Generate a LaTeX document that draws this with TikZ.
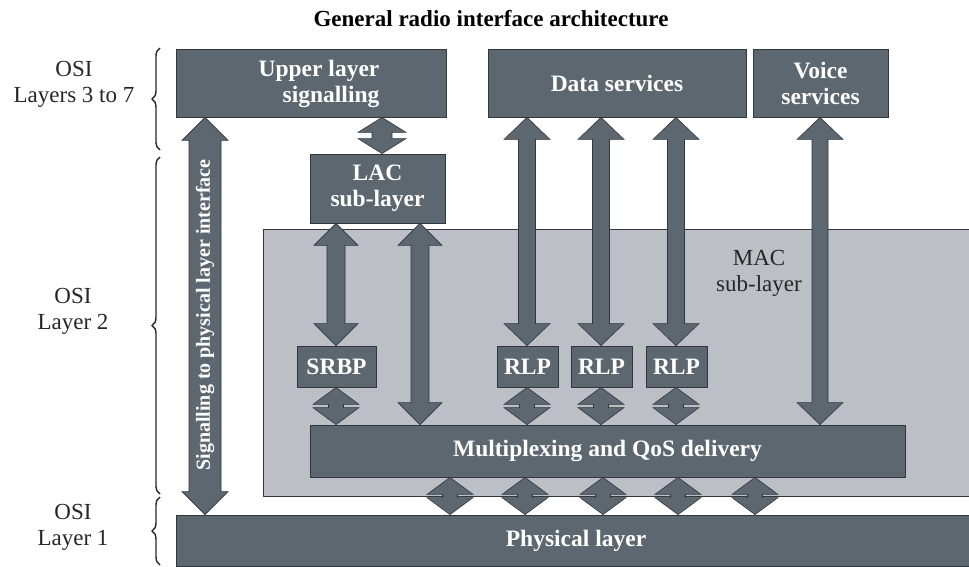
\documentclass[tikz,border=0pt]{standalone}
\usepackage{fontspec}
\setmainfont{Liberation Serif}
\usetikzlibrary{calc,decorations.pathreplacing}
\definecolor{darkbox}{RGB}{93,103,112}
\definecolor{lightbg}{RGB}{188,191,198}
\definecolor{edgecol}{RGB}{50,55,60}
\tikzset{
  x=1pt,y=1pt,
  dbox/.style={draw=edgecol,line width=0.8pt,fill=darkbox,text=white,
    font=\fontsize{23.5}{26}\selectfont\bfseries,align=center,inner sep=0pt},
  macbg/.style={draw=edgecol,line width=0.6pt,fill=lightbg},
  fatarrow/.style={draw=edgecol,line width=0.6pt,fill=darkbox},
  osilabel/.style={font=\fontsize{23}{26}\selectfont,align=center,text=black!85},
  bracestyle/.style={decorate,decoration={brace,amplitude=8pt,mirror},line width=1.4pt,draw=black!85},
}
% #1 x, #2 top anchor, #3 bottom anchor, #4 shaft half width, #5 head half width, #6 head length
\newcommand\fatdbl[6]{%
  \draw[fatarrow] let \p1=#2, \p2=#3 in
   (#1,\y1) -- ({#1+#5},{\y1-#6pt}) -- ({#1+#4},{\y1-#6pt}) -- ({#1+#4},{\y2+#6pt})
   -- ({#1+#5},{\y2+#6pt}) -- (#1,\y2) -- ({#1-#5},{\y2+#6pt}) -- ({#1-#4},{\y2+#6pt})
   -- ({#1-#4},{\y1-#6pt}) -- ({#1-#5},{\y1-#6pt}) -- cycle;}
\begin{document}
\begin{tikzpicture}
\useasboundingbox (0,0) rectangle (969,-567);
% title
\node[font=\fontsize{23}{26}\selectfont\bfseries] (title) at (491,-19) {General radio interface architecture};
% MAC background
\node[macbg,minimum width=720,minimum height=267,inner sep=0pt] (mac) at (623,-362.5) {};
\node[font=\fontsize{23}{26}\selectfont,align=center,text=black!85] (mactext) at (759,-273) {MAC\\sub-layer};
% boxes
\node[dbox,minimum width=270,minimum height=68] (upper) at (311,-83) {};
\node[font=\fontsize{23.5}{26}\selectfont\bfseries,text=white,align=right,inner sep=0pt] (uppertext) at (319,-84) {Upper layer\\signalling};
\node[dbox,minimum width=258,minimum height=68] (data) at (617,-83) {Data services};
\node[dbox,minimum width=135,minimum height=68] (voice) at (820.5,-83) {Voice\\services};
\node[dbox,minimum width=135,minimum height=69] (lac) at (377.5,-188.5) {LAC\\sub-layer};
\node[dbox,minimum width=79,minimum height=41] (srbp) at (336.5,-366.5) {SRBP};
\node[dbox,minimum width=61,minimum height=41] (rlpa) at (527.5,-366.5) {RLP};
\node[dbox,minimum width=61,minimum height=41] (rlpb) at (601.5,-366.5) {RLP};
\node[dbox,minimum width=61,minimum height=41] (rlpc) at (676.5,-366.5) {RLP};
\node[dbox,minimum width=595,minimum height=52] (mux) at (607.5,-451) {Multiplexing and QoS delivery};
\node[dbox,minimum width=800,minimum height=51] (phys) at (576,-540.5) {Physical layer};
% arrows
\fatdbl{205}{(upper.south)}{(phys.north)}{16}{23}{23}
\node[rotate=90,text=white,font=\fontsize{20}{22}\selectfont\bfseries] (sigtext) at (205,-315) {Signalling to physical layer interface};
\fatdbl{382}{(upper.south)}{(lac.north)}{10}{24}{15}
\fatdbl{336}{(lac.south)}{(srbp.north)}{9}{22}{22}
\fatdbl{420}{(lac.south)}{(mux.north)}{9}{22}{22}
\fatdbl{527}{(data.south)}{(rlpa.north)}{8.5}{23}{22}
\fatdbl{601}{(data.south)}{(rlpb.north)}{8.5}{23}{22}
\fatdbl{676}{(data.south)}{(rlpc.north)}{8.5}{23}{22}
\fatdbl{820}{(voice.south)}{(mux.north)}{8}{23}{22}
\fatdbl{336}{(srbp.south)}{(mux.north)}{7.5}{23}{17}
\fatdbl{527}{(rlpa.south)}{(mux.north)}{7.5}{23}{17}
\fatdbl{601}{(rlpb.south)}{(mux.north)}{7.5}{23}{17}
\fatdbl{676}{(rlpc.south)}{(mux.north)}{7.5}{23}{17}
\fatdbl{450}{(mux.south)}{(phys.north)}{7.5}{23}{17}
\fatdbl{525}{(mux.south)}{(phys.north)}{7.5}{23}{17}
\fatdbl{603}{(mux.south)}{(phys.north)}{7.5}{23}{17}
\fatdbl{678}{(mux.south)}{(phys.north)}{7.5}{23}{17}
\fatdbl{755}{(mux.south)}{(phys.north)}{7.5}{23}{17}
% OSI labels and braces
\node[osilabel] (osia) at (74,-84) {OSI\\Layers 3 to 7};
\node[osilabel] (osib) at (73,-311) {OSI\\Layer 2};
\node[osilabel] (osic) at (73,-527) {OSI\\Layer 1};
\coordinate (ba1) at (160,-48);  \coordinate (ba2) at (160,-150);
\coordinate (bb1) at (160,-157); \coordinate (bb2) at (160,-494);
\coordinate (bc1) at (160,-497); \coordinate (bc2) at (160,-565);
\draw[bracestyle] (ba1) -- (ba2);
\draw[bracestyle] (bb1) -- (bb2);
\draw[bracestyle] (bc1) -- (bc2);
\end{tikzpicture}
\end{document}
